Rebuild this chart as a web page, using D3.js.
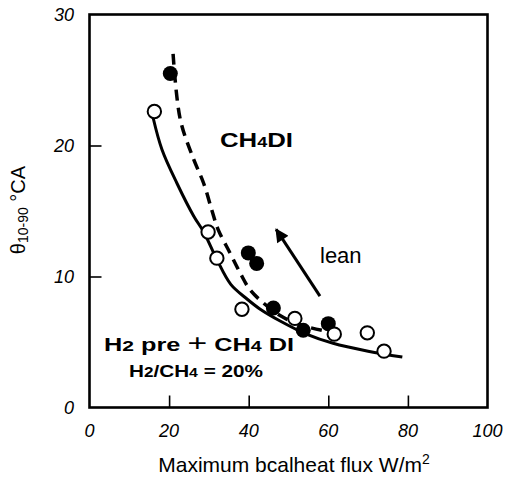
<!DOCTYPE html>
<html>
<head>
<meta charset="utf-8">
<script src="https://cdn.jsdelivr.net/npm/d3@7"></script>
<style>
  body { margin: 0; background: #fff; }
  svg { display: block; }
  text { font-family: "Liberation Sans", Arial, sans-serif; fill: #000; }
</style>
</head>
<body>
<svg id="chart" width="509" height="480"></svg>
<script>
// ---- data ----
const xTicks = [0, 20, 40, 60, 80, 100];
const yTicks = [0, 10, 20, 30];

// H2 pre + CH4 DI (open circles)
const openX = [16.3, 29.8, 32.0, 38.3, 51.6, 61.5, 69.8, 74.0];
const openY = [22.6, 13.4, 11.4, 7.5, 6.8, 5.6, 5.7, 4.3];

// CH4 DI (filled circles)
const fillX = [20.3, 39.9, 42.0, 46.2, 53.7, 60.0];
const fillY = [25.5, 11.8, 11.0, 7.6, 5.9, 6.4];

// fitted curve for H2 pre + CH4 DI (solid)
const solidX = [16.0, 18.2, 22.0, 26.2, 28.7, 32.0, 35.5, 39.5, 42.9, 47.9, 54.5, 61.2, 70.0, 78.6];
const solidY = [22.1, 19.7, 17.1, 14.6, 13.4, 11.3, 9.4, 8.3, 7.5, 6.6, 5.6, 4.9, 4.3, 3.85];

// fitted curve for CH4 DI (dashed)
const dashX = [21.0, 22.8, 26.1, 28.7, 30.8, 32.3, 35.3, 37.8, 40.3, 44.0, 48.0, 53.0, 60.0];
const dashY = [27.0, 22.0, 19.0, 17.1, 15.0, 13.6, 11.8, 10.3, 9.0, 7.9, 7.0, 6.3, 5.8];

// "lean" arrow (tail -> tip)
const arrowX = [57.9, 46.9];
const arrowY = [8.5, 13.6];

// ---- chart ----
const svg = d3.select("#chart");
const x = d3.scaleLinear().domain([0, 100]).range([89.5, 487.5]);
const y = d3.scaleLinear().domain([0, 30]).range([407.5, 14.5]);

// frame
svg.append("rect")
  .attr("x", x(0)).attr("y", y(30))
  .attr("width", x(100) - x(0)).attr("height", y(0) - y(30))
  .attr("fill", "none").attr("stroke", "#000").attr("stroke-width", 2.6);

// inner ticks
const xAxis = d3.axisTop(x).tickValues(xTicks.slice(1, -1)).tickSize(12).tickFormat("");
const gx = svg.append("g").attr("transform", `translate(0,${y(0)})`).call(xAxis);
const yAxis = d3.axisRight(y).tickValues(yTicks.slice(1, -1)).tickSize(12).tickFormat("");
const gy = svg.append("g").attr("transform", `translate(${x(0)},0)`).call(yAxis);
[gx, gy].forEach(g => {
  g.select(".domain").remove();
  g.selectAll("line").attr("stroke", "#000").attr("stroke-width", 1.6);
});

// tick labels
svg.append("g").selectAll("text").data(xTicks).join("text")
  .attr("x", d => x(d)).attr("y", 437)
  .attr("text-anchor", "middle")
  .attr("font-size", 18).attr("font-style", "italic")
  .text(d => d);
svg.append("g").selectAll("text").data(yTicks).join("text")
  .attr("x", 74).attr("y", d => y(d) + 6.5)
  .attr("text-anchor", "end")
  .attr("font-size", 18).attr("font-style", "italic")
  .text(d => d);

// axis titles
const xt = svg.append("text").attr("x", 294).attr("y", 472)
  .attr("text-anchor", "middle").attr("font-size", 21);
xt.append("tspan").text("Maximum bcalheat flux W/m");
xt.append("tspan").attr("font-size", 14).attr("dy", -8).text("2");

const yt = svg.append("text")
  .attr("transform", "translate(25,210) rotate(-90)")
  .attr("text-anchor", "middle").attr("font-size", 20);
yt.append("tspan").text("θ");
yt.append("tspan").attr("font-size", 14).attr("dy", 3).text("10-90");
yt.append("tspan").attr("dy", -3).text(" °CA");

// curves
const line = d3.line().x(d => x(d[0])).y(d => y(d[1])).curve(d3.curveCatmullRom.alpha(0.5));
svg.append("path").datum(solidX.map((v, i) => [v, solidY[i]]))
  .attr("d", line).attr("fill", "none").attr("stroke", "#000").attr("stroke-width", 3);
svg.append("path").datum(dashX.map((v, i) => [v, dashY[i]]))
  .attr("d", line).attr("fill", "none").attr("stroke", "#000").attr("stroke-width", 3.5)
  .attr("stroke-dasharray", "11,7");

// points
svg.append("g").selectAll("circle").data(fillX.map((v, i) => [v, fillY[i]])).join("circle")
  .attr("cx", d => x(d[0])).attr("cy", d => y(d[1])).attr("r", 7.5)
  .attr("fill", "#000");
svg.append("g").selectAll("circle").data(openX.map((v, i) => [v, openY[i]])).join("circle")
  .attr("cx", d => x(d[0])).attr("cy", d => y(d[1])).attr("r", 6.7)
  .attr("fill", "#fff").attr("stroke", "#000").attr("stroke-width", 2);

// arrow
svg.append("defs").append("marker")
  .attr("id", "ah").attr("viewBox", "0 0 10 10").attr("refX", 9).attr("refY", 5)
  .attr("markerWidth", 5).attr("markerHeight", 4.5).attr("markerUnits", "strokeWidth")
  .attr("orient", "auto")
  .append("path").attr("d", "M0,0 L10,5 L0,10 Z").attr("fill", "#000");
svg.append("line")
  .attr("x1", x(arrowX[0])).attr("y1", y(arrowY[0]))
  .attr("x2", x(arrowX[1])).attr("y2", y(arrowY[1]))
  .attr("stroke", "#000").attr("stroke-width", 3)
  .attr("marker-end", "url(#ah)");

// annotations
const t1 = svg.append("text").attr("x", 220).attr("y", 147)
  .attr("font-size", 20).attr("font-weight", "bold")
  .attr("textLength", 73).attr("lengthAdjust", "spacingAndGlyphs");
t1.append("tspan").text("CH");
t1.append("tspan").attr("font-size", 14).text("4");
t1.append("tspan").text("DI");

svg.append("text").attr("x", 320).attr("y", 263)
  .attr("font-size", 22).text("lean");

const t2 = svg.append("text").attr("x", 104).attr("y", 351)
  .attr("font-size", 18).attr("font-weight", "bold")
  .attr("textLength", 190).attr("lengthAdjust", "spacingAndGlyphs");
t2.append("tspan").text("H");
t2.append("tspan").attr("font-size", 15).text("2");
t2.append("tspan").text(" pre ");
t2.append("tspan").attr("font-size", 24).attr("font-weight", "normal").text("+");
t2.append("tspan").text(" CH");
t2.append("tspan").attr("font-size", 14).text("4");
t2.append("tspan").text(" DI");

const t3 = svg.append("text").attr("x", 129).attr("y", 377)
  .attr("font-size", 17).attr("font-weight", "bold")
  .attr("textLength", 134).attr("lengthAdjust", "spacingAndGlyphs");
t3.append("tspan").text("H");
t3.append("tspan").attr("font-size", 14).text("2");
t3.append("tspan").text("/CH");
t3.append("tspan").attr("font-size", 13).text("4");
t3.append("tspan").text(" = 20%");
</script>
</body>
</html>
